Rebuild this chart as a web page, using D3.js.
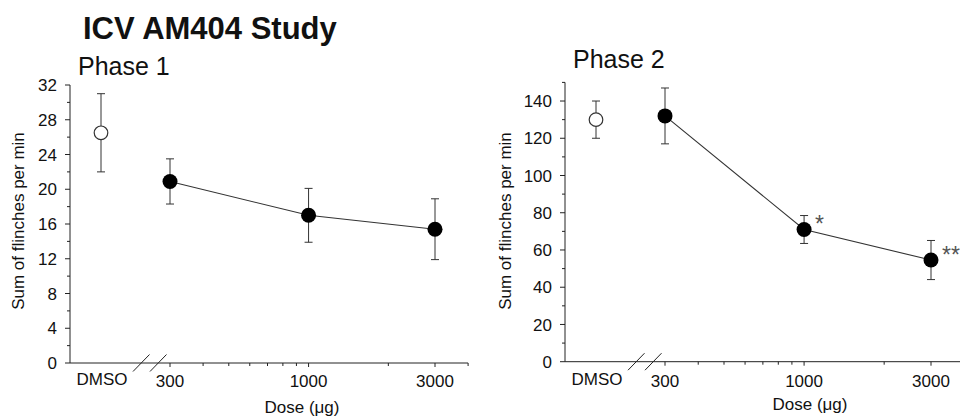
<!DOCTYPE html>
<html lang="en">
	<head>
		<meta charset="utf-8">
		<title>ICV AM404 Study</title>
		<style>
			html, body {
				margin: 0;
				background: #fff;
			}
			svg {
				display: block;
				font-family: 'Liberation Sans', Arial, sans-serif;
			}
		</style>
	</head>
	<body>
		<script src="https://cdn.jsdelivr.net/npm/d3@7/dist/d3.min.js"></script>
		<script>
		const title = 'ICV AM404 Study'
		const panelTitles = ['Phase 1', 'Phase 2']
		const doses = [300, 1000, 3000]
		const doseTicks = [300, 1000, 3000]
		const minorDoseTicks = [400, 500, 600, 700, 800, 900, 2000, 4000]
		const vehicleLabel = 'DMSO'
		const vehicleMean = [26.5, 130]
		const vehicleErr = [4.5, 10]
		const phase1Mean = [20.9, 17.0, 15.4]
		const phase1Err = [2.6, 3.1, 3.5]
		const phase2Mean = [132, 71, 54.6]
		const phase2Err = [15, 7.5, 10.5]
		const phase1Stars = ['', '', '']
		const phase2Stars = ['', '*', '**']
		const yTicks1 = [0, 4, 8, 12, 16, 20, 24, 28, 32]
		const yTicks2 = [0, 20, 40, 60, 80, 100, 120, 140]
		const yLabel = 'Sum of flinches per min'
		const xLabel = 'Dose (\u03bcg)'

		const W = 960
		const H = 416
		const ink = '#222'
		const lineColor = '#333'
		const dotR = 7.5
		const capW = 4

		const svg = d3.select('body').append('svg')
			.attr('width', W)
			.attr('height', H)
			.attr('viewBox', [0, 0, W, H])

		svg.append('text')
			.attr('x', 83)
			.attr('y', 39)
			.attr('font-size', 31)
			.attr('font-weight', 'bold')
			.attr('fill', '#111')
			.text(title)

		const panels = [
			{
				name: panelTitles[0], titleX: 78, titleY: 75,
				axisX: 70, x0: 170, x1: 435, yTop: 85, yBottom: 363,
				yMax: 32, yTicks: yTicks1, yMinor: 2,
				mean: phase1Mean, err: phase1Err, stars: phase1Stars,
				vMean: vehicleMean[0], vErr: vehicleErr[0],
				yTitleX: 24, yTitleY: 221, xTitleX: 302, xTitleY: 413
			},
			{
				name: panelTitles[1], titleX: 573, titleY: 68,
				axisX: 565, x0: 665, x1: 931, yTop: 82.4, yBottom: 361.7,
				yMax: 150, yTicks: yTicks2, yMinor: 10,
				mean: phase2Mean, err: phase2Err, stars: phase2Stars,
				vMean: vehicleMean[1], vErr: vehicleErr[1],
				yTitleX: 511, yTitleY: 221, xTitleX: 810, xTitleY: 410
			}
		]

		panels.forEach(p => {
			const g = svg.append('g')
			const x = d3.scaleLog().domain([300, 3000]).range([p.x0, p.x1])
			const y = d3.scaleLinear().domain([0, p.yMax]).range([p.yBottom, p.yTop])
			const vx = p.axisX + 31
			const xEnd = x(4000)

			g.append('text')
				.attr('x', p.titleX)
				.attr('y', p.titleY)
				.attr('font-size', 25)
				.attr('fill', '#111')
				.text(p.name)

			// y axis
			g.append('line')
				.attr('x1', p.axisX).attr('x2', p.axisX)
				.attr('y1', y(p.yMax)).attr('y2', y(0))
				.attr('stroke', ink)
			g.append('g').selectAll('line')
				.data(d3.range(0, p.yMax + 0.001, p.yMinor))
				.join('line')
				.attr('x1', p.axisX)
				.attr('x2', d => p.yTicks.includes(d) ? p.axisX - 5 : p.axisX - 3)
				.attr('y1', d => y(d)).attr('y2', d => y(d))
				.attr('stroke', ink)
			g.append('g').selectAll('text')
				.data(p.yTicks)
				.join('text')
				.attr('x', p.axisX - 13)
				.attr('y', d => y(d))
				.attr('dy', '0.36em')
				.attr('text-anchor', 'end')
				.attr('font-size', 17)
				.attr('fill', '#111')
				.text(d => d)

			g.append('text')
				.attr('transform', `translate(${p.yTitleX}, ${p.yTitleY}) rotate(-90)`)
				.attr('text-anchor', 'middle')
				.attr('font-size', 17)
				.attr('fill', '#111')
				.text(yLabel)

			// x axis with break
			g.append('line')
				.attr('x1', p.axisX).attr('x2', xEnd)
				.attr('y1', y(0)).attr('y2', y(0))
				.attr('stroke', ink)
			g.append('g').selectAll('line')
				.data([63, 80])
				.join('line')
				.attr('x1', d => p.axisX + d).attr('x2', d => p.axisX + d + 16.5)
				.attr('y1', y(0) + 8.5).attr('y2', y(0) - 8.5)
				.attr('stroke', ink)
			g.append('g').selectAll('line')
				.data(doseTicks.concat(minorDoseTicks))
				.join('line')
				.attr('x1', d => x(d)).attr('x2', d => x(d))
				.attr('y1', y(0))
				.attr('y2', d => doseTicks.includes(d) ? y(0) + 4 : y(0) + 3)
				.attr('stroke', ink)
			g.append('g').selectAll('text')
				.data(doseTicks)
				.join('text')
				.attr('x', d => x(d))
				.attr('y', 387)
				.attr('text-anchor', 'middle')
				.attr('font-size', 17)
				.attr('fill', '#111')
				.text(d => d)
			g.append('text')
				.attr('x', vx + 1)
				.attr('y', 385)
				.attr('text-anchor', 'middle')
				.attr('font-size', 17)
				.attr('fill', '#111')
				.text(vehicleLabel)
			g.append('text')
				.attr('x', p.xTitleX)
				.attr('y', p.xTitleY)
				.attr('text-anchor', 'middle')
				.attr('font-size', 17)
				.attr('fill', '#111')
				.text(xLabel)

			// error bars
			const bars = doses.map((d, i) => ({ cx: x(d), m: p.mean[i], e: p.err[i] }))
			bars.push({ cx: vx, m: p.vMean, e: p.vErr })
			const eb = g.append('g').attr('stroke', lineColor)
			bars.forEach(b => {
				eb.append('line')
					.attr('x1', b.cx).attr('x2', b.cx)
					.attr('y1', y(b.m + b.e)).attr('y2', y(b.m - b.e))
				eb.selectAll(null)
					.data([b.m + b.e, b.m - b.e])
					.join('line')
					.attr('x1', b.cx - capW).attr('x2', b.cx + capW)
					.attr('y1', d => y(d)).attr('y2', d => y(d))
			})

			// connecting line
			g.append('path')
				.datum(doses.map((d, i) => [d, p.mean[i]]))
				.attr('fill', 'none')
				.attr('stroke', lineColor)
				.attr('stroke-width', 1.1)
				.attr('d', d3.line().x(d => x(d[0])).y(d => y(d[1])))

			// points
			g.append('circle')
				.attr('cx', vx)
				.attr('cy', y(p.vMean))
				.attr('r', 6.8)
				.attr('fill', '#fff')
				.attr('stroke', lineColor)
				.attr('stroke-width', 1.2)
			g.append('g').selectAll('circle')
				.data(doses)
				.join('circle')
				.attr('cx', d => x(d))
				.attr('cy', (d, i) => y(p.mean[i]))
				.attr('r', dotR)
				.attr('fill', '#000')

			g.append('g').selectAll('text')
				.data(doses)
				.join('text')
				.attr('x', d => x(d) + 11)
				.attr('y', (d, i) => y(p.mean[i]) + 3)
				.attr('font-size', 23)
				.attr('fill', '#555')
				.text((d, i) => p.stars[i])
		})
		</script>
	</body>
</html>
